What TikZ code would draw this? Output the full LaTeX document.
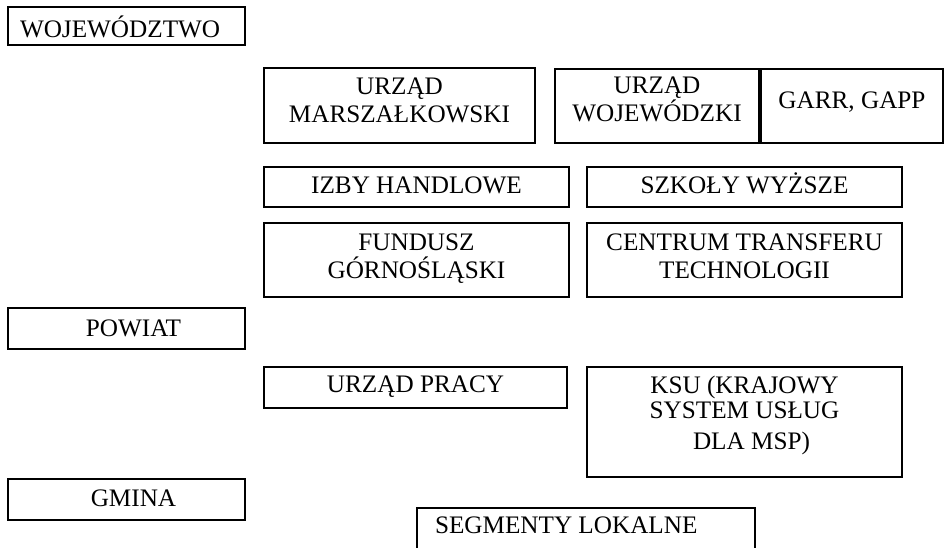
\documentclass[tikz,border=0pt]{standalone}
\usepackage{fontspec}
\setmainfont{Liberation Serif}
\newdimen\px \px=0.75pt
\newcommand\bxt[4]{\parbox[t][#2\px][t]{#1\px}{\baselineskip=28\px\lineskiplimit=-30pt\lineskip=0pt\centering\rule{0pt}{#3\px}#4}}
\newcommand\bxl[5]{\parbox[t][#2\px][t]{#1\px}{\baselineskip=28\px\lineskiplimit=-30pt\lineskip=0pt\raggedright\rule{0pt}{#3\px}\hspace*{#4\px}#5}}
\begin{document}
\begin{tikzpicture}[x=0.75pt,y=-0.75pt,
  bx/.style={draw=black, line width=1.6pt, inner sep=0pt, outer sep=0pt, anchor=north west,
    font=\fontsize{18.9pt}{21pt}\selectfont}]
\useasboundingbox (0,0) rectangle (946,547);
\clip (0,0) rectangle (946,547);
\node[bx] (woj) at (8,7) {\bxl{237}{38}{30}{12}{WOJEWÓDZTWO}};
\node[bx] (marsz) at (264,68) {\bxt{271}{75}{26}{URZĄD\\MARSZAŁKOWSKI}};
\node[bx] (wojew) at (555,69) {\bxt{204}{74}{24}{URZĄD\\WOJEWÓDZKI}};
\node[bx] (garr) at (761,69) {\bxt{182}{74}{39}{GARR, GAPP}};
\node[bx] (izby) at (264,167) {\bxt{305}{40}{26}{IZBY HANDLOWE}};
\node[bx] (szk) at (587,167) {\bxt{315}{40}{26}{SZKOŁY WYŻSZE}};
\node[bx] (fund) at (264,223) {\bxt{305}{74}{27}{FUNDUSZ\\GÓRNOŚLĄSKI}};
\node[bx] (cent) at (587,223) {\bxt{315}{74}{27}{CENTRUM TRANSFERU\\TECHNOLOGII}};
\node[bx] (pow) at (8,308) {\bxt{237}{41}{28}{\hspace*{14\px}POWIAT}};
\node[bx] (prac) at (264,367) {\bxt{303}{41}{25}{URZĄD PRACY}};
\node[bx] (ksu) at (587,367) {\bxt{315}{110}{26}{\baselineskip=25\px KSU (KRAJOWY\hspace*{14\px}\\SYSTEM USŁUG\hspace*{28\px}\\[6\px]\hspace*{14\px}DLA MSP)}};
\node[bx] (gmina) at (8,479) {\bxt{237}{41}{27}{\hspace*{14\px}GMINA}};
\node[bx] (seg) at (417,508) {\bxl{338}{70}{25}{18}{SEGMENTY LOKALNE}};
\end{tikzpicture}
\end{document}
